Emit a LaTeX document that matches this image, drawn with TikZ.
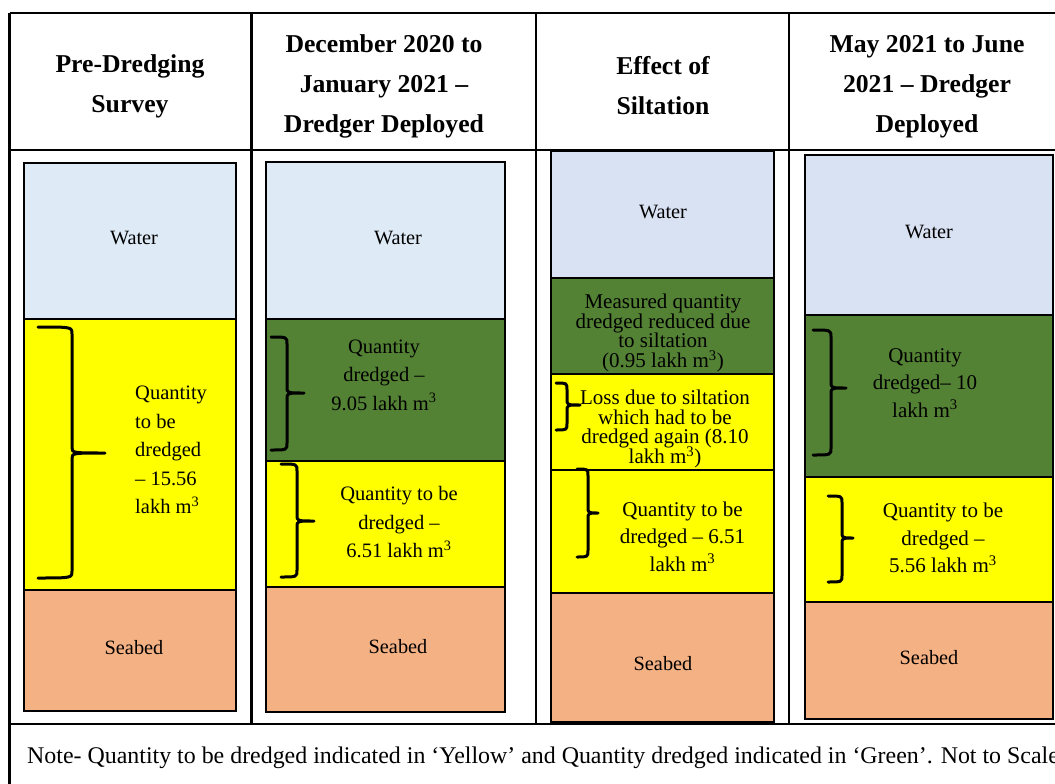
\documentclass[tikz,border=0pt]{standalone}
\usepackage{fontspec}
\setmainfont{Liberation Serif}
\definecolor{waterA}{HTML}{DEEAF6}
\definecolor{waterB}{HTML}{D9E2F3}
\definecolor{dgreen}{HTML}{548235}
\definecolor{yel}{HTML}{FFFF00}
\definecolor{seabed}{HTML}{F4B183}
\newcommand\tightfont{\fontsize{21}{19.8}\selectfont\lineskiplimit=-30pt\relax}
\newcommand\rbrc[6]{%
  \draw[bracestyle] (#1,#4) .. controls (#2,#4) and (#2,#4) .. (#2,#4+7)
    -- (#2,#5-6) .. controls (#2,#5) .. (#3,#5)
    .. controls (#2,#5) .. (#2,#5+6)
    -- (#2,#6-7) .. controls (#2,#6) and (#2,#6) .. (#1,#6);}
\begin{document}
\begin{tikzpicture}[x=1pt,y=-1pt,
  grid/.style={line width=2.6pt},
  layer/.style={draw=black,line width=2.6pt},
  bracestyle/.style={draw=black,line width=3pt,line cap=round,line join=round},
  hd/.style={inner sep=0pt,align=center,font=\fontsize{25.7}{40}\selectfont\bfseries},
  lbl/.style={inner sep=0pt,font=\fontsize{20.3}{24}\selectfont},
  txta/.style={inner sep=0pt,align=center,font=\fontsize{20.5}{28.5}\selectfont},
  txtb/.style={inner sep=0pt,align=center,font=\fontsize{21}{27.5}\selectfont},
  tight/.style={inner sep=0pt,align=center,font=\tightfont}]
\useasboundingbox (0,0) rectangle (1055,784);
\fill[white] (0,0) rectangle (1055,784);
% table grid
\draw[grid] (9.5,13) -- (1070,13);
\draw[grid] (9.5,13) -- (9.5,800);
\draw[grid] (9.5,150) -- (1070,150);
\draw[grid] (9.5,724) -- (1070,724);
\draw[grid] (251.5,13) -- (251.5,724);
\draw[grid] (536,13) -- (536,724);
\draw[grid] (789,13) -- (789,724);
% column 1
\path[layer,fill=waterA] (24,163) rectangle (236,319);
\path[layer,fill=yel] (24,319) rectangle (236,590);
\path[layer,fill=seabed] (24,590) rectangle (236,711);
% column 2
\path[layer,fill=waterA] (266,162) rectangle (505,319);
\path[layer,fill=dgreen] (266,319) rectangle (505,461);
\path[layer,fill=yel] (266,461) rectangle (505,587);
\path[layer,fill=seabed] (266,587) rectangle (505,712);
% column 3
\path[layer,fill=waterB] (551,151) rectangle (774,278);
\path[layer,fill=dgreen] (551,278) rectangle (774,374);
\path[layer,fill=yel] (551,374) rectangle (774,470);
\path[layer,fill=yel] (551,470) rectangle (774,593);
\path[layer,fill=seabed] (551,593) rectangle (774,722);
% column 4
\path[layer,fill=waterB] (805,155) rectangle (1053,315);
\path[layer,fill=dgreen] (805,315) rectangle (1053,477);
\path[layer,fill=yel] (805,477) rectangle (1053,602);
\path[layer,fill=seabed] (805,602) rectangle (1053,719);
% headers
\node[hd] (h1) at (130,86) {Pre-Dredging\\Survey};
\node[hd] (h2) at (384,86.5) {December 2020 to\\January 2021 –\\Dredger Deployed};
\node[hd] (h3) at (663,86) {Effect of\\Siltation};
\node[hd] (h4) at (927,86.5) {May 2021 to June\\2021 – Dredger\\Deployed};
% column 1 texts
\node[lbl] (w1) at (134,238) {Water};
\node[txta,align=left,anchor=west] (q1) at (135,450) {Quantity\\to be\\dredged\\– 15.56\\lakh m\textsuperscript{3}};
\node[lbl] (s1) at (134,648) {Seabed};
% column 2 texts
\node[lbl] (w2) at (398,238) {Water};
\node[txta] (g2) at (384,375) {Quantity\\dredged –\\9.05 lakh m\textsuperscript{3}};
\node[txta] (y2) at (399,522.5) {Quantity to be\\dredged –\\6.51 lakh m\textsuperscript{3}};
\node[lbl] (s2) at (398,647) {Seabed};
% column 3 texts
\node[lbl] (w3) at (663,212) {Water};
\node[tight] (g3) at (663,333) {Measured quantity\\dredged reduced due\\to siltation\\(0.95 lakh m\textsuperscript{3})};
\node[tight] (l3) at (665,429) {Loss due to siltation\\which had to be\\dredged again (8.10\\lakh m\textsuperscript{3})};
\node[txtb] (y3) at (682.5,536.5) {Quantity to be\\dredged – 6.51\\lakh m\textsuperscript{3}};
\node[lbl] (s3) at (663,664) {Seabed};
% column 4 texts
\node[lbl] (w4) at (929,232) {Water};
\node[txtb] (g4) at (925,383) {Quantity\\dredged– 10\\lakh m\textsuperscript{3}};
\node[txtb] (y4) at (943,538) {Quantity to be\\dredged –\\5.56 lakh m\textsuperscript{3}};
\node[lbl] (s4) at (929,658) {Seabed};
% braces
\rbrc{38}{72}{105}{327}{453}{578}
\rbrc{271}{287}{304}{337}{393}{450}
\rbrc{281}{297}{314}{464}{521}{577}
\rbrc{556}{567}{580}{383}{405}{430}
\rbrc{577}{588}{598}{469}{513}{557}
\rbrc{813}{831}{846}{330}{388}{455}
\rbrc{828}{842}{853}{496}{538}{582}
% note
\node[inner sep=0pt,anchor=base west,font=\fontsize{23.9}{28}\selectfont] (note) at (27,763) {Note- Quantity to be dredged indicated in ‘Yellow’ and Quantity dredged indicated in ‘Green’. Not to Scale};
\end{tikzpicture}
\end{document}
